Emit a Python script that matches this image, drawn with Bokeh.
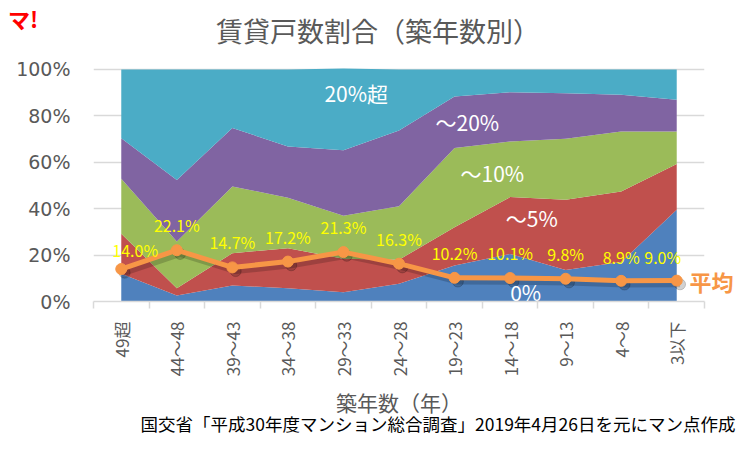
import math
from bokeh.plotting import figure
from bokeh.models import (ColumnDataSource, Range1d, FixedTicker, PrintfTickFormatter,
                          Label, Title, LinearAxis)
from bokeh.core.properties import value
from bokeh.embed import file_html
from bokeh.resources import INLINE

# ---- data ----
categories = ["49超", "44～48", "39～43", "34～38", "29～33", "24～28",
              "19～23", "14～18", "9～13", "4～8", "3以下"]
share_0 = [12.0, 2.6, 6.9, 5.7, 4.0, 7.6, 15.5, 20.5, 13.6, 17.0, 39.5]
share_5 = [17.2, 3.1, 13.9, 17.3, 14.4, 10.4, 16.5, 24.5, 30.2, 30.4, 19.8]
share_10 = [23.7, 20.2, 28.8, 21.7, 18.6, 23.0, 34.2, 24.0, 26.3, 25.9, 14.0]
share_20 = [17.5, 26.5, 25.2, 22.1, 28.2, 32.7, 22.2, 21.2, 19.7, 15.8, 13.6]
share_over20 = [29.6, 47.6, 25.2, 33.2, 35.2, 26.3, 11.6, 9.8, 10.2, 10.9, 13.1]
average = [14.0, 22.1, 14.7, 17.2, 21.3, 16.3, 10.2, 10.1, 9.8, 8.9, 9.0]
series_names = ["0%", "～5%", "～10%", "～20%", "20%超"]
y_ticks = [0, 20, 40, 60, 80, 100]

title_text = "賃貸戸数割合（築年数別）"
x_title_text = "築年数（年）"
source_text = "国交省「平成30年度マンション総合調査」2019年4月26日を元にマン点作成"
logo_text = "マ!"
avg_name = "平均"

# ---- styles ----
colors = ["#4F81BD", "#C0504D", "#9BBB59", "#8064A2", "#4BACC6"]
orange = "#F79646"
gray = "#595959"
grid_gray = "#D9D9D9"
JP = "Noto Sans CJK JP"
label_dx = [14, 0, 0, 0, 0, 0, 0, 0, 0, 0, -14]
label_dy = [-19, -25, -25, -25, -25, -25, -25, -25, -25, -24, -24]

xs = list(range(len(categories)))
cols = ["s0", "s5", "s10", "s20", "s20p"]
src = ColumnDataSource(dict(x=xs, s0=share_0, s5=share_5, s10=share_10,
                            s20=share_20, s20p=share_over20))

p = figure(width=736, height=436, output_backend="svg", toolbar_location=None,
           x_range=Range1d(-0.5, len(categories) - 0.5), y_range=Range1d(0, 122.4),
           min_border_left=93, min_border_right=32, min_border_top=17,
           min_border_bottom=135)
p.title.visible = False
p.outline_line_color = None
p.background_fill_color = "white"
p.border_fill_color = "white"
p.xgrid.grid_line_color = None
p.ygrid.ticker = FixedTicker(ticks=y_ticks)
p.ygrid.grid_line_color = grid_gray
p.ygrid.grid_line_width = 1.5

p.varea_stack(stackers=cols, x="x", color=colors, source=src)

# average line with soft shadow
p.line([x + 0.06 for x in xs], [v - 1.6 for v in average], line_width=6,
       color="black", alpha=0.18)
p.scatter([x + 0.06 for x in xs], [v - 1.6 for v in average], size=11,
          color="black", alpha=0.18)
p.line(xs, average, line_width=5, color=orange)
p.scatter(xs, average, size=11, color=orange)

p.text(x=xs, y=average, text=[f"{v:.1f}%" for v in average],
       x_offset=label_dx, y_offset=label_dy,
       text_align="center", text_baseline="middle",
       text_color="#FFFF00", text_font_size="16px", text_font=value(JP))

# series labels
series_pos = [(7.28, 4.0), (7.39, 35.8), (6.68, 55.2), (6.23, 77.2), (4.23, 89.7)]
for name, (lx, ly) in zip(series_names, series_pos):
    p.add_layout(Label(x=lx, y=ly, text=name, text_align="center",
                       text_baseline="middle", text_color="white",
                       text_font_size="21px", text_font=JP))

# chart title (inside the tall frame)
p.add_layout(Label(x=4.62, y=116.6, text=title_text, text_align="center",
                   text_baseline="middle", text_color=gray,
                   text_font_size="27px", text_font=JP))

# y axis
p.yaxis.ticker = FixedTicker(ticks=y_ticks)
p.yaxis.formatter = PrintfTickFormatter(format="%d%%")
p.yaxis.axis_line_color = None
p.yaxis.major_tick_line_color = None
p.yaxis.minor_tick_line_color = None
p.yaxis.major_tick_out = 0
p.yaxis.major_tick_in = 0
p.yaxis.major_label_standoff = 23
p.yaxis.major_label_text_font_size = "19px"
p.yaxis.major_label_text_color = gray
p.yaxis.major_label_text_font = "DejaVu Sans"
# logo as horizontal axis label at top-left
p.yaxis.axis_label = logo_text
p.yaxis.axis_label_text_color = "#FF0000"
p.yaxis.axis_label_text_font = JP
p.yaxis.axis_label_text_font_size = "22px"
p.yaxis.axis_label_text_font_style = "bold"
p.yaxis.axis_label_standoff = -25
try:
    p.yaxis.axis_label_orientation = "horizontal"
    p.yaxis.axis_label_align = "end"
except Exception:
    pass

# right axis: name of the average line at its last value
avg_axis = LinearAxis(ticker=FixedTicker(ticks=[average[-1]]),
                      major_label_overrides={average[-1]: avg_name})
avg_axis.axis_line_color = None
avg_axis.major_tick_line_color = None
avg_axis.minor_tick_line_color = None
avg_axis.major_tick_out = 0
avg_axis.major_tick_in = 0
avg_axis.major_label_standoff = -15
avg_axis.major_label_text_font = JP
avg_axis.major_label_text_font_size = "22px"
avg_axis.major_label_text_font_style = "bold"
avg_axis.major_label_text_color = orange
p.add_layout(avg_axis, "right")

# x axis
p.xaxis.ticker = FixedTicker(ticks=xs, minor_ticks=[x - 0.5 for x in xs] + [len(xs) - 0.5])
p.xaxis.major_label_overrides = {x: c for x, c in zip(xs, categories)}
p.xaxis.major_label_orientation = math.pi / 2
p.xaxis.axis_line_color = grid_gray
p.xaxis.axis_line_width = 1.5
p.xaxis.major_tick_line_color = None
p.xaxis.major_tick_out = 0
p.xaxis.major_tick_in = 0
p.xaxis.minor_tick_line_color = grid_gray
p.xaxis.minor_tick_line_width = 1.5
p.xaxis.minor_tick_out = 7
p.xaxis.minor_tick_in = 0
p.xaxis.major_label_standoff = 13
p.xaxis.major_label_text_font_size = "17px"
p.xaxis.major_label_text_color = gray
p.xaxis.major_label_text_font = JP
p.xaxis.axis_label = x_title_text
p.xaxis.axis_label_text_font = JP
p.xaxis.axis_label_text_font_size = "21px"
p.xaxis.axis_label_text_font_style = "normal"
p.xaxis.axis_label_text_color = gray
p.xaxis.axis_label_standoff = 8

# source note
p.add_layout(Title(text=source_text, align="right", offset=-31, standoff=-20,
                   vertical_align="top",
                   text_font=JP, text_font_size="17.5px", text_font_style="normal",
                   text_color="black"), "below")

open("out.html", "w").write(file_html(p, INLINE))
